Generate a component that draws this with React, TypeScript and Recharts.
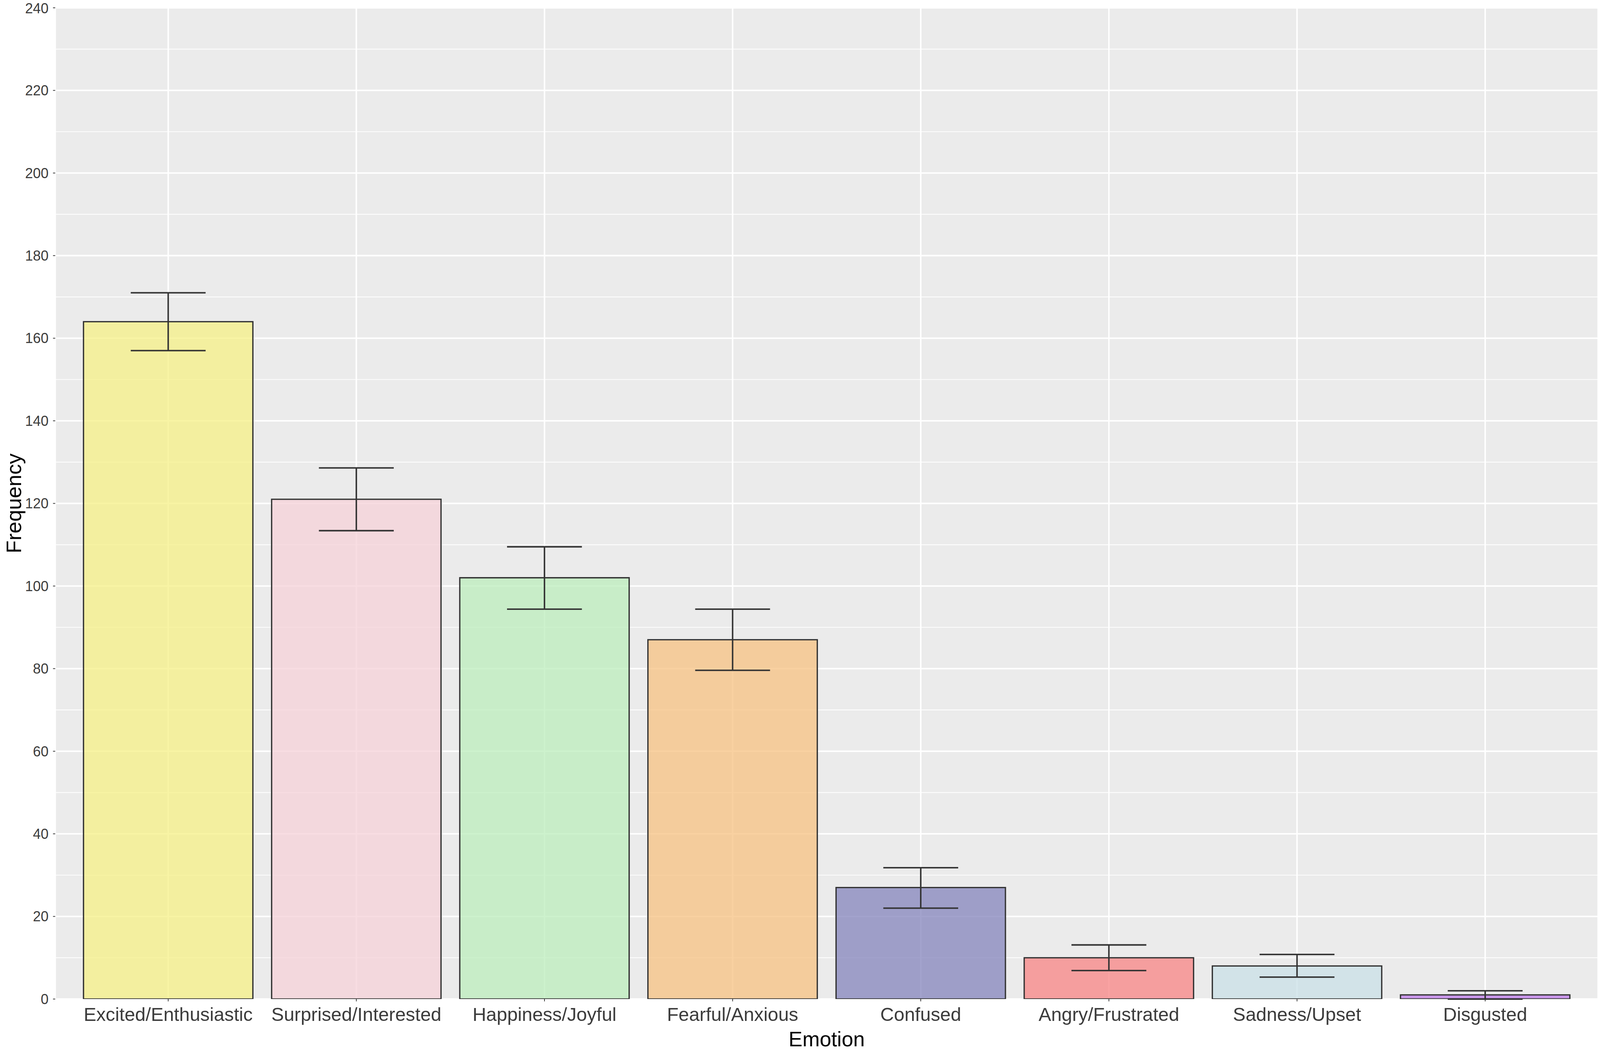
import React from "react";
import {
  BarChart, Bar, XAxis, YAxis, CartesianGrid, ErrorBar, Cell,
} from "recharts";

const emotions = [
  "Excited/Enthusiastic", "Surprised/Interested", "Happiness/Joyful", "Fearful/Anxious",
  "Confused", "Angry/Frustrated", "Sadness/Upset", "Disgusted",
];
const frequency = [164, 121, 102, 87, 27, 10, 8, 1];
const lowerBound = [157, 113.4, 94.4, 79.6, 22, 6.9, 5.3, 0];
const upperBound = [171, 128.6, 109.5, 94.4, 31.8, 13.1, 10.8, 2];
const fills = ["#F6F086", "#F6D2D8", "#BCEEBC", "#F7C282", "#8484BC", "#F88484", "#CAE0E7", "#BC7AE7"];

const majorTicks = [0, 20, 40, 60, 80, 100, 120, 140, 160, 180, 200, 220, 240];
const minorTicks = [10, 30, 50, 70, 90, 110, 130, 150, 170, 190, 210, 230];

const data = emotions.map((emotion, i) => ({
  emotion,
  count: frequency[i],
  err: [frequency[i] - lowerBound[i], upperBound[i] - frequency[i]],
}));

const FONT = '"Liberation Sans", Arial, Helvetica, sans-serif';

// layout is drawn for 4317x2690 and scaled to whatever the viewport really is
const BASE_W = 4317;
const BASE_H = 2690;

export default function App() {
  const W = typeof window !== "undefined" && window.innerWidth ? window.innerWidth : BASE_W;
  const H = typeof window !== "undefined" && window.innerHeight ? window.innerHeight : BASE_H;
  const sx = W / BASE_W;
  const sy = H / BASE_H;
  const sf = Math.min(sx, sy);

  const XTitle = ({ viewBox }: any) => {
    const { x, width } = viewBox;
    return (
      <text x={x + width / 2} y={2678 * sy} textAnchor="middle" fontSize={56 * sf} fontFamily={FONT} fill="#000">
        Emotion
      </text>
    );
  };

  const YTitle = ({ viewBox }: any) => {
    const { y, height } = viewBox;
    const cx = 57 * sx;
    const cy = y + height / 2;
    return (
      <text x={cx} y={cy} textAnchor="middle" fontSize={57 * sf} fontFamily={FONT} fill="#000"
        transform={`rotate(-90, ${cx}, ${cy})`}>
        Frequency
      </text>
    );
  };

  return (
    <div style={{ position: "absolute", left: 0, top: 0, width: W, height: H, background: "#fff", overflow: "hidden" }}>
      <BarChart
        width={W}
        height={H}
        data={data}
        margin={{ top: 20 * sy, right: 5 * sx, left: 0, bottom: 0 }}
        style={{ fontFamily: FONT }}
      >
        <CartesianGrid yAxisId="minor" vertical={false} fill="#EBEBEB" stroke="#FFFFFF" strokeWidth={2 * sf} />
        <CartesianGrid yAxisId="major" stroke="#FFFFFF" strokeWidth={4 * sf} />
        <XAxis
          dataKey="emotion"
          interval={0}
          padding={{ left: 51 * sx, right: 51 * sx }}
          height={133 * sy}
          axisLine={false}
          tickSize={6 * sy}
          tickMargin={16 * sy}
          tickLine={{ stroke: "#333", strokeWidth: 2 * sf }}
          tick={{ fill: "#3C3C3C", fontSize: 51 * sf, fontFamily: FONT }}
          label={<XTitle />}
        />
        <YAxis
          yAxisId="major"
          domain={[0, 240]}
          ticks={majorTicks}
          allowDataOverflow
          width={149 * sx}
          axisLine={false}
          tickSize={6 * sx}
          tickMargin={12 * sx}
          tickLine={{ stroke: "#333", strokeWidth: 2 * sf }}
          tick={{ fill: "#3C3C3C", fontSize: 38 * sf, fontFamily: FONT }}
          label={<YTitle />}
        />
        <YAxis yAxisId="minor" domain={[0, 240]} ticks={minorTicks} allowDataOverflow hide />
        <Bar
          yAxisId="major"
          dataKey="count"
          barSize={457 * sx}
          fillOpacity={0.75}
          stroke="#333"
          strokeWidth={3.5 * sf}
          isAnimationActive={false}
        >
          {data.map((d, i) => (
            <Cell key={d.emotion} fill={fills[i]} />
          ))}
          <ErrorBar dataKey="err" width={101 * sx} stroke="#333" strokeWidth={4 * sf} isAnimationActive={false} />
        </Bar>
      </BarChart>
    </div>
  );
}
